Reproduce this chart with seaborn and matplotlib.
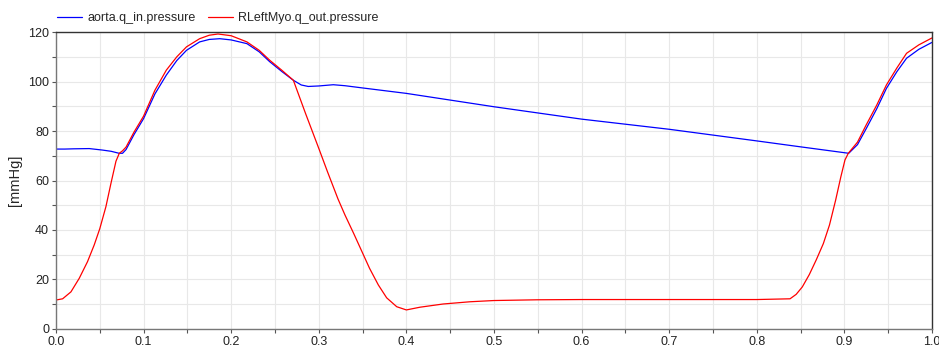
import pandas as pd
import seaborn as sns
import matplotlib.pyplot as plt
from matplotlib.ticker import MultipleLocator

# time axis [s] and pressures [mmHg]
t_aorta = [0.0, 0.01, 0.02, 0.038, 0.053, 0.063, 0.072, 0.076, 0.08, 0.089, 0.1,
           0.113, 0.126, 0.138, 0.149, 0.164, 0.175, 0.187, 0.2, 0.218, 0.232,
           0.244, 0.258, 0.271, 0.28, 0.288, 0.3, 0.3166, 0.33, 0.35, 0.4,
           0.45, 0.5, 0.6, 0.7, 0.8, 0.85, 0.905, 0.915, 0.925, 0.937, 0.948,
           0.96, 0.971, 0.985, 1.0]
p_aorta = [72.7, 72.7, 72.8, 72.9, 72.3, 71.8, 71.0, 71.0, 72.5, 78.5, 85.0,
           95.0, 102.6, 108.5, 112.6, 116.0, 117.0, 117.3, 116.8, 115.3, 112.0,
           108.0, 104.0, 100.5, 98.6, 98.0, 98.2, 98.7, 98.3, 97.4, 95.2,
           92.5, 89.8, 84.8, 80.7, 76.0, 73.6, 71.0, 74.5, 81.0, 89.0, 97.2,
           104.0, 109.4, 113.0, 115.8]

t_lv = [0.0, 0.0076, 0.0171, 0.0266, 0.036, 0.0437, 0.05, 0.057, 0.0628, 0.0685,
        0.0723, 0.076, 0.08, 0.089, 0.1, 0.113, 0.126, 0.138, 0.149, 0.164,
        0.175, 0.185, 0.2, 0.218, 0.232, 0.244, 0.258, 0.271, 0.285, 0.3,
        0.31, 0.322, 0.33, 0.34, 0.349, 0.358, 0.368, 0.3775, 0.389, 0.4,
        0.4155, 0.442, 0.4726, 0.5, 0.55, 0.6, 0.7, 0.8, 0.838, 0.845, 0.852,
        0.86, 0.868, 0.876, 0.883, 0.89, 0.896, 0.9007, 0.9045, 0.915, 0.925,
        0.937, 0.948, 0.96, 0.971, 0.985, 1.0]
p_lv = [11.7, 12.2, 15.0, 20.5, 27.2, 34.0, 40.5, 49.4, 58.9, 67.8,
        71.0, 72.0, 73.5, 79.5, 86.0, 96.5, 104.6, 110.0, 114.0, 117.3,
        118.7, 119.2, 118.5, 116.0, 112.6, 108.6, 104.5, 100.5, 87.0, 73.0,
        63.5, 52.5, 46.0, 38.5, 31.5, 24.5, 17.8, 12.6, 9.0, 7.7,
        8.8, 10.1, 11.0, 11.5, 11.8, 11.9, 11.9, 11.9, 12.2, 14.0, 17.0,
        22.0, 28.0, 34.5, 42.0, 52.0, 61.5, 68.3, 71.0, 75.5, 82.5,
        90.5, 98.6, 105.5, 111.4, 114.8, 117.6]

names = ["aorta.q_in.pressure", "RLeftMyo.q_out.pressure"]

df = pd.concat([
    pd.DataFrame({"time": t_aorta, "p": p_aorta, "var": names[0]}),
    pd.DataFrame({"time": t_lv, "p": p_lv, "var": names[1]}),
])

sns.set_style("ticks")
plt.rcParams["font.family"] = ["Liberation Sans", "DejaVu Sans"]
plt.rcParams["font.size"] = 9

fig = plt.figure(figsize=(9.39, 3.51), dpi=100)
ax = fig.add_axes([0.0596, 0.0627, 0.9329, 0.8461])

sns.lineplot(data=df, x="time", y="p", hue="var", hue_order=names,
             palette=["#0000ff", "#ff0000"], sort=False, estimator=None,
             linewidth=0.9, ax=ax, legend=False)

ax.set_xlim(0, 1)
ax.set_ylim(0, 120)
ax.xaxis.set_major_locator(MultipleLocator(0.1))
ax.xaxis.set_minor_locator(MultipleLocator(0.05))
ax.yaxis.set_major_locator(MultipleLocator(20))
ax.yaxis.set_minor_locator(MultipleLocator(10))
ax.xaxis.set_major_formatter(plt.FormatStrFormatter("%.1f"))
ax.grid(which="both", color="#e8e8e8", linewidth=0.8)
ax.set_axisbelow(True)
ax.tick_params(which="both", direction="out", length=3, width=0.8,
               colors="#555555", labelcolor="#222222", labelsize=9, pad=2)
for s in ["left", "bottom"]:
    ax.spines[s].set_color("#777777")
for s in ["top", "right"]:
    ax.spines[s].set_color("#333333")
for s in ax.spines.values():
    s.set_linewidth(1.0)

ax.set_xlabel("")
ax.set_ylabel("[mmHg]", fontsize=10.5, labelpad=4)

handles = [plt.Line2D([], [], color=c, linewidth=0.9) for c in ["#0000ff", "#ff0000"]]
fig.legend(handles, names, loc="upper left", bbox_to_anchor=(0.049, 0.998),
           ncol=2, frameon=False, fontsize=9, handlelength=2.0,
           columnspacing=1.0, handletextpad=0.4)

fig.savefig("out.png", dpi=100)
